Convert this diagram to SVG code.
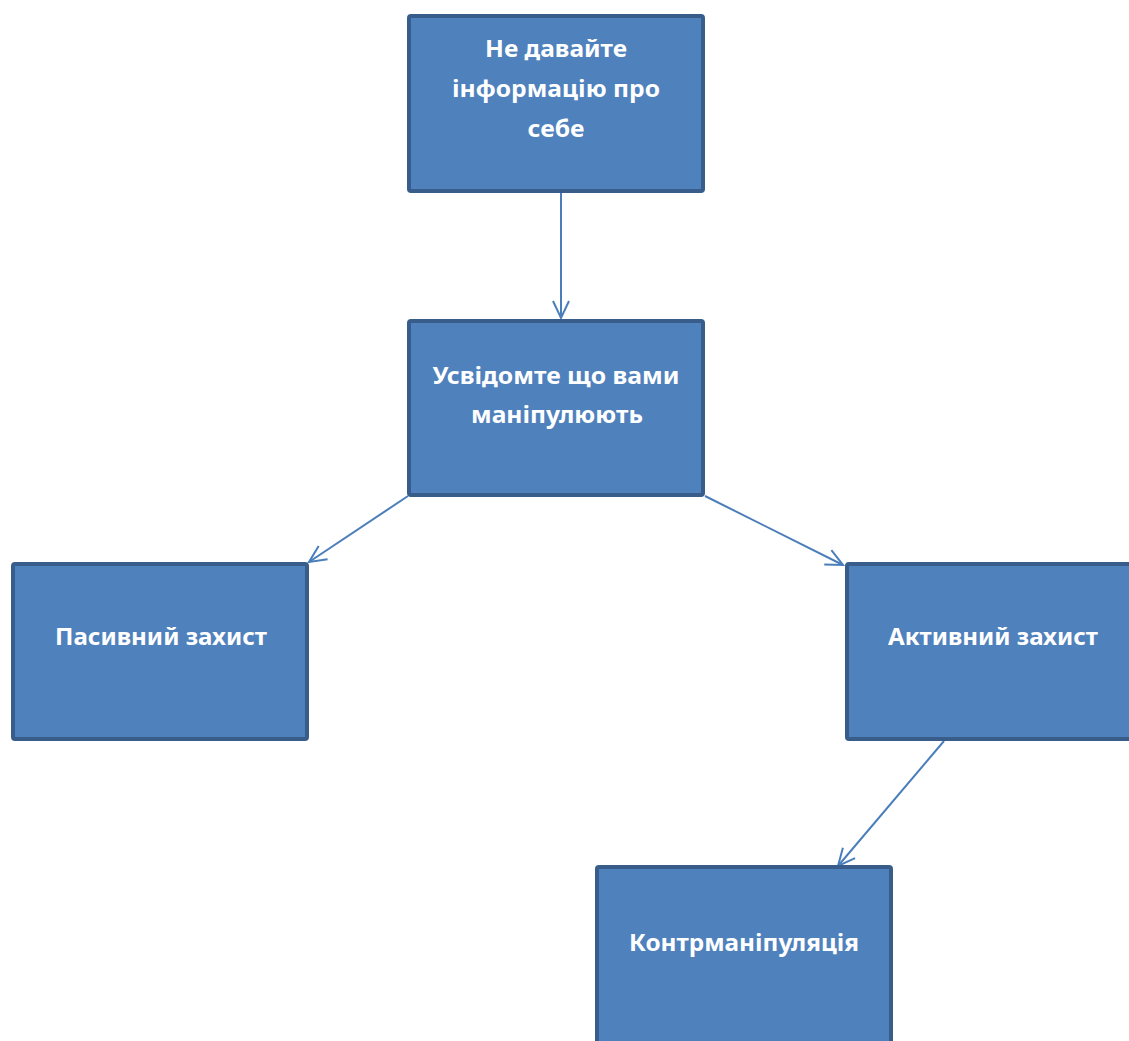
<svg xmlns="http://www.w3.org/2000/svg" width="1129" height="1041" viewBox="0 0 1129 1041">
<style>
.box{fill:#4F81BD;stroke:#385D8A;stroke-width:4;}
.lbl{font-family:"Noto Sans","Open Sans","DejaVu Sans",sans-serif;font-weight:bold;font-size:23px;fill:#FFFFFF;text-anchor:middle;}
.conn{stroke:#4A7EBB;stroke-width:2;fill:none;}
</style>
<defs>
<marker id="arr" markerUnits="userSpaceOnUse" markerWidth="40" markerHeight="40" viewBox="-20 -20 40 40" refX="0" refY="0" orient="auto">
<path d="M-17,-8 L0,0 L-17,8" fill="none" stroke="#4A7EBB" stroke-width="2"/>
</marker>
</defs>
<rect width="1129" height="1041" fill="#FFFFFF"/>
<g id="connectors">
<line class="conn" x1="561" y1="193" x2="561" y2="318" marker-end="url(#arr)"/>
<line class="conn" x1="408" y1="496" x2="309" y2="562" marker-end="url(#arr)"/>
<line class="conn" x1="705" y1="496" x2="843" y2="565" marker-end="url(#arr)"/>
<line class="conn" x1="944" y1="741" x2="838" y2="866" marker-end="url(#arr)"/>
</g>
<g id="node1">
<rect class="box" x="409" y="16" width="294" height="175" rx="2"/>
<text class="lbl" x="556" y="57" textLength="142" lengthAdjust="spacingAndGlyphs">Не давайте</text>
<text class="lbl" x="556" y="97" textLength="208" lengthAdjust="spacingAndGlyphs">інформацію про</text>
<text class="lbl" x="556" y="137" textLength="57" lengthAdjust="spacingAndGlyphs">себе</text>
</g>
<g id="node2">
<rect class="box" x="409" y="321" width="294" height="174" rx="2"/>
<text class="lbl" x="556" y="384" textLength="247" lengthAdjust="spacingAndGlyphs">Усвідомте що вами</text>
<text class="lbl" x="557" y="423" textLength="172" lengthAdjust="spacingAndGlyphs">маніпулюють</text>
</g>
<g id="node3">
<rect class="box" x="13" y="564" width="294" height="175" rx="2"/>
<text class="lbl" x="161" y="645" textLength="212" lengthAdjust="spacingAndGlyphs">Пасивний захист</text>
</g>
<g id="node4">
<rect class="box" x="847" y="564" width="294" height="175" rx="2"/>
<text class="lbl" x="993" y="645" textLength="210" lengthAdjust="spacingAndGlyphs">Активний захист</text>
</g>
<g id="node5">
<rect class="box" x="597" y="867" width="294" height="180" rx="2"/>
<text class="lbl" x="744" y="951" textLength="230" lengthAdjust="spacingAndGlyphs">Контрманіпуляція</text>
</g>
</svg>
